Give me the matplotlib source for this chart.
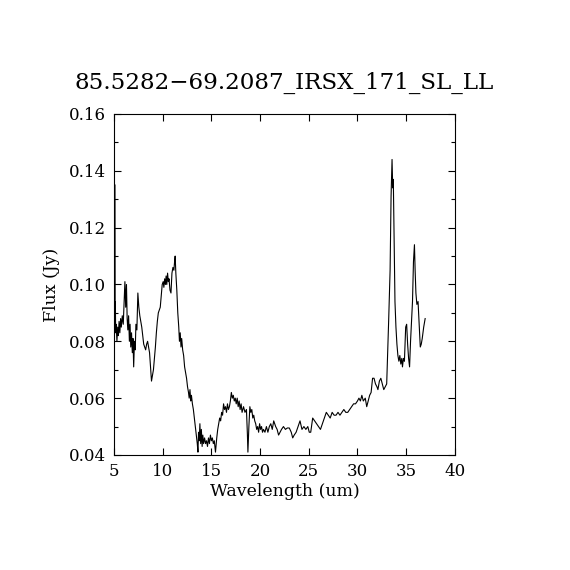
import matplotlib
matplotlib.use("Agg")
import matplotlib.pyplot as plt
from matplotlib.ticker import MultipleLocator

title = "85.5282\u221269.2087_IRSX_171_SL_LL"
xlabel = "Wavelength (um)"
ylabel = "Flux (Jy)"

wavelength = [
    5.10, 5.12, 5.14, 5.17, 5.22, 5.30, 5.38, 5.45, 5.52, 5.60, 5.68, 5.75, 5.85, 5.95,
    6.05, 6.12, 6.20, 6.28, 6.35, 6.42, 6.50, 6.58, 6.65, 6.72, 6.80, 6.88, 6.95, 7.02,
    7.10, 7.18, 7.25, 7.35, 7.45, 7.55, 7.65, 7.75, 7.85, 7.95, 8.05, 8.15, 8.25, 8.35,
    8.45, 8.55, 8.65, 8.75, 8.85, 8.95, 9.05, 9.15, 9.25, 9.35, 9.45, 9.55, 9.65, 9.75,
    9.85, 9.95, 10.05, 10.12, 10.20, 10.28, 10.35, 10.42, 10.50, 10.58, 10.65, 10.75,
    10.85, 10.95, 11.05, 11.15, 11.22, 11.28, 11.35, 11.45, 11.55, 11.65, 11.72, 11.80,
    11.88, 11.95, 12.05, 12.15, 12.25, 12.35, 12.45, 12.55, 12.65, 12.72, 12.80, 12.88,
    12.95, 13.05, 13.15, 13.25, 13.35, 13.45, 13.55, 13.62, 13.68, 13.75, 13.82, 13.90,
    13.97, 14.05, 14.12, 14.20, 14.30, 14.40, 14.50, 14.60, 14.70, 14.80, 14.90, 15.00,
    15.10, 15.20, 15.30, 15.42, 15.55, 15.65, 15.75, 15.85, 15.95, 16.05, 16.15, 16.25,
    16.35, 16.45, 16.55, 16.65, 16.75, 16.85, 16.95, 17.05, 17.15, 17.25, 17.35, 17.45,
    17.55, 17.65, 17.75, 17.85, 17.95, 18.05, 18.15, 18.30, 18.45, 18.60, 18.70, 18.75,
    18.85, 18.95, 19.05, 19.15, 19.25, 19.35, 19.45, 19.55, 19.65, 19.75, 19.85, 19.95,
    20.05, 20.15, 20.25, 20.35, 20.50, 20.65, 20.80, 20.95, 21.10, 21.25, 21.40, 21.50,
    21.60, 21.75, 21.90, 22.05, 22.20, 22.40, 22.60, 22.80, 23.00, 23.20, 23.35, 23.50,
    23.70, 23.90, 24.10, 24.30, 24.50, 24.70, 24.90, 25.05, 25.20, 25.40, 25.60, 25.80,
    26.00, 26.20, 26.40, 26.60, 26.80, 27.00, 27.20, 27.40, 27.60, 27.80, 28.00, 28.20,
    28.40, 28.60, 28.80, 29.00, 29.20, 29.40, 29.60, 29.80, 30.00, 30.15, 30.30, 30.45,
    30.60, 30.80, 30.95, 31.10, 31.25, 31.40, 31.55, 31.70, 31.85, 32.00, 32.10, 32.25,
    32.40, 32.55, 32.70, 32.85, 33.00, 33.10, 33.20, 33.35, 33.45, 33.55, 33.62, 33.68,
    33.75, 33.85, 33.95, 34.05, 34.15, 34.25, 34.35, 34.45, 34.55, 34.62, 34.72, 34.82,
    34.95, 35.05, 35.15, 35.25, 35.35, 35.45, 35.55, 35.65, 35.75, 35.85, 35.92, 36.00,
    36.10, 36.22, 36.35, 36.45, 36.55, 36.65, 36.80, 36.95,
]

flux = [
    0.135, 0.090, 0.094, 0.083, 0.086, 0.080, 0.085, 0.082, 0.087, 0.083, 0.088, 0.085, 0.089, 0.086,
    0.095, 0.101, 0.092, 0.100, 0.088, 0.084, 0.089, 0.080, 0.086, 0.078, 0.083, 0.076, 0.081, 0.071,
    0.080, 0.077, 0.086, 0.084, 0.097, 0.092, 0.089, 0.087, 0.085, 0.082, 0.079, 0.078, 0.077, 0.079,
    0.080, 0.078, 0.076, 0.071, 0.066, 0.068, 0.070, 0.074, 0.078, 0.083, 0.087, 0.090, 0.091, 0.092,
    0.096, 0.100, 0.101, 0.099, 0.102, 0.100, 0.103, 0.100, 0.104, 0.101, 0.102, 0.098,
    0.097, 0.104, 0.106, 0.105, 0.108, 0.110, 0.104, 0.098, 0.090, 0.085, 0.080, 0.083,
    0.078, 0.081, 0.077, 0.075, 0.071, 0.069, 0.067, 0.064, 0.062, 0.060, 0.063, 0.059,
    0.061, 0.058, 0.056, 0.053, 0.050, 0.047, 0.044, 0.041, 0.048, 0.045, 0.051, 0.044,
    0.049, 0.043, 0.047, 0.044, 0.046, 0.044, 0.045, 0.043, 0.046, 0.044, 0.047, 0.045,
    0.046, 0.044, 0.045, 0.041, 0.046, 0.049, 0.051, 0.053, 0.052, 0.055, 0.054, 0.058,
    0.056, 0.057, 0.055, 0.058, 0.056, 0.057, 0.059, 0.062, 0.060, 0.061, 0.059, 0.060,
    0.058, 0.060, 0.057, 0.059, 0.056, 0.058, 0.055, 0.057, 0.055, 0.056, 0.047, 0.041,
    0.050, 0.057, 0.055, 0.056, 0.053, 0.054, 0.052, 0.051, 0.049, 0.050, 0.048, 0.051,
    0.049, 0.050, 0.048, 0.049, 0.048, 0.050, 0.048, 0.050, 0.051, 0.049, 0.052, 0.051,
    0.050, 0.049, 0.047, 0.048, 0.049, 0.050, 0.049, 0.0495, 0.0495, 0.048, 0.046, 0.047,
    0.048, 0.050, 0.052, 0.049, 0.050, 0.049, 0.050, 0.048, 0.048, 0.053, 0.052, 0.051,
    0.050, 0.049, 0.051, 0.053, 0.055, 0.054, 0.053, 0.055, 0.054, 0.054, 0.055, 0.054,
    0.055, 0.056, 0.055, 0.055, 0.056, 0.057, 0.058, 0.058, 0.059, 0.060, 0.059, 0.061,
    0.059, 0.060, 0.057, 0.059, 0.061, 0.062, 0.067, 0.067, 0.065, 0.064, 0.063, 0.066,
    0.067, 0.065, 0.063, 0.064, 0.065, 0.076, 0.087, 0.105, 0.131, 0.144, 0.134, 0.137,
    0.120, 0.094, 0.085, 0.079, 0.075, 0.073, 0.075, 0.072, 0.074, 0.071, 0.074, 0.073,
    0.085, 0.086, 0.079, 0.074, 0.071, 0.080, 0.087, 0.094, 0.108, 0.114, 0.105, 0.097,
    0.093, 0.094, 0.085, 0.078, 0.079, 0.081, 0.085, 0.088,
]

xlim = (5, 40)
ylim = (0.04, 0.16)

plt.rcParams['font.family'] = ['DejaVu Serif']

fig = plt.figure(figsize=(5.7, 5.7), dpi=100)
ax = fig.add_axes([0.2, 0.2018, 0.598, 0.5982])
ax.plot(wavelength, flux, color='black', linewidth=0.8)
ax.set_xlim(*xlim)
ax.set_ylim(*ylim)

ax.xaxis.set_major_locator(MultipleLocator(5))
ax.yaxis.set_major_locator(MultipleLocator(0.02))
ax.yaxis.set_minor_locator(MultipleLocator(0.01))
ax.yaxis.set_major_formatter(matplotlib.ticker.FormatStrFormatter('%.2f'))
ax.tick_params(which='both', direction='in', top=True, right=True, labelsize=12,
               width=0.8, colors='black')
ax.tick_params(which='major', length=5, pad=6)
ax.tick_params(which='minor', length=3)
for s in ax.spines.values():
    s.set_linewidth(0.8)

ax.set_xlabel(xlabel, fontsize=12.5, labelpad=2)
ax.set_ylabel(ylabel, fontsize=12.5, labelpad=6)
ax.set_title(title, fontsize=16.6, pad=18)

fig.savefig("out.png", dpi=100, facecolor='white')
